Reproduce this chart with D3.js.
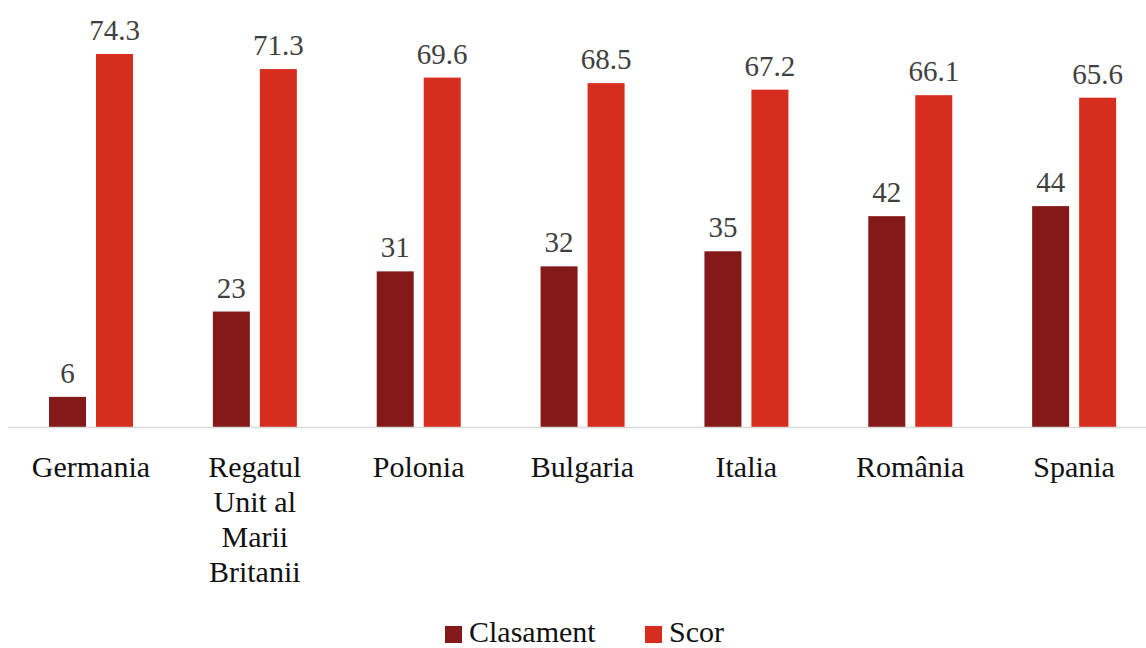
<!DOCTYPE html>
<html lang="ro">
<head>
<meta charset="UTF-8">
<title>Clasament si scor</title>
<script src="https://d3js.org/d3.v7.min.js"></script>
<style>
  body { margin: 0; background: #fff; overflow: hidden; }
  text { font-family: "Liberation Serif", "Times New Roman", serif; }
  .value { fill: #404040; font-size: 29px; }
  .cat { fill: #111; font-size: 30px; }
  .legend text { fill: #111; font-size: 30px; }
</style>
</head>
<body>
<svg id="chart" width="1146" height="648"></svg>
<script>
const countries = ["Germania", "Regatul Unit al Marii Britanii", "Polonia", "Bulgaria", "Italia", "România", "Spania"];
const series = ["Clasament", "Scor"];
const clasament = [6, 23, 31, 32, 35, 42, 44];
const scor = [74.3, 71.3, 69.6, 68.5, 67.2, 66.1, 65.6];
const colors = ["#841919", "#d62d1e"];

const rows = countries.map((c, i) => ({ country: c, values: [clasament[i], scor[i]] }));

const svg = d3.select("#chart");

const x0 = d3.scaleBand().domain(countries).range([9, 1156]);
const x1 = d3.scaleBand().domain(series).range([40, 124]).paddingInner(0.2128);
const y = d3.scaleLinear().domain([0, 80]).range([427, 25.4]);

const group = svg.selectAll(".group")
  .data(rows)
  .join("g")
  .attr("class", "group")
  .attr("transform", d => `translate(${x0(d.country)},0)`);

group.selectAll("rect")
  .data(d => d.values.map((v, i) => ({ key: series[i], v, i })))
  .join("rect")
  .attr("x", d => x1(d.key))
  .attr("width", x1.bandwidth())
  .attr("y", d => y(d.v))
  .attr("height", d => y(0) - y(d.v))
  .attr("fill", d => colors[d.i]);

group.selectAll(".value")
  .data(d => d.values.map((v, i) => ({ key: series[i], v })))
  .join("text")
  .attr("class", "value")
  .attr("x", d => x1(d.key) + x1.bandwidth() / 2)
  .attr("y", d => y(d.v) - 14)
  .attr("text-anchor", "middle")
  .text(d => d.v);

// axis line
svg.append("line")
  .attr("x1", 8).attr("x2", 1146)
  .attr("y1", y(0) + 0.5).attr("y2", y(0) + 0.5)
  .attr("stroke", "#d9d9d9").attr("stroke-width", 1.5);

// category labels, wrapped
const cats = svg.append("g");
rows.forEach(d => {
  const cx = x0(d.country) + x0.bandwidth() / 2;
  const t = cats.append("text")
    .attr("class", "cat")
    .attr("text-anchor", "middle")
    .attr("x", cx)
    .attr("y", 477);
  const words = d.country.split(" ");
  let line = [];
  let ts = t.append("tspan").attr("x", cx).attr("dy", 0);
  words.forEach(w => {
    line.push(w);
    ts.text(line.join(" "));
    if (ts.node().getComputedTextLength() > 110 && line.length > 1) {
      line.pop();
      ts.text(line.join(" "));
      line = [w];
      ts = t.append("tspan").attr("x", cx).attr("dy", 35).text(w);
    }
  });
});

// legend
const legend = svg.append("g").attr("class", "legend");
const items = [{ name: series[0], x: 445 }, { name: series[1], x: 645 }];
items.forEach((it, i) => {
  legend.append("rect")
    .attr("x", it.x).attr("y", 626)
    .attr("width", 17).attr("height", 17)
    .attr("fill", colors[i]);
  legend.append("text")
    .attr("x", it.x + 24).attr("y", 642)
    .text(it.name);
});
</script>
</body>
</html>
